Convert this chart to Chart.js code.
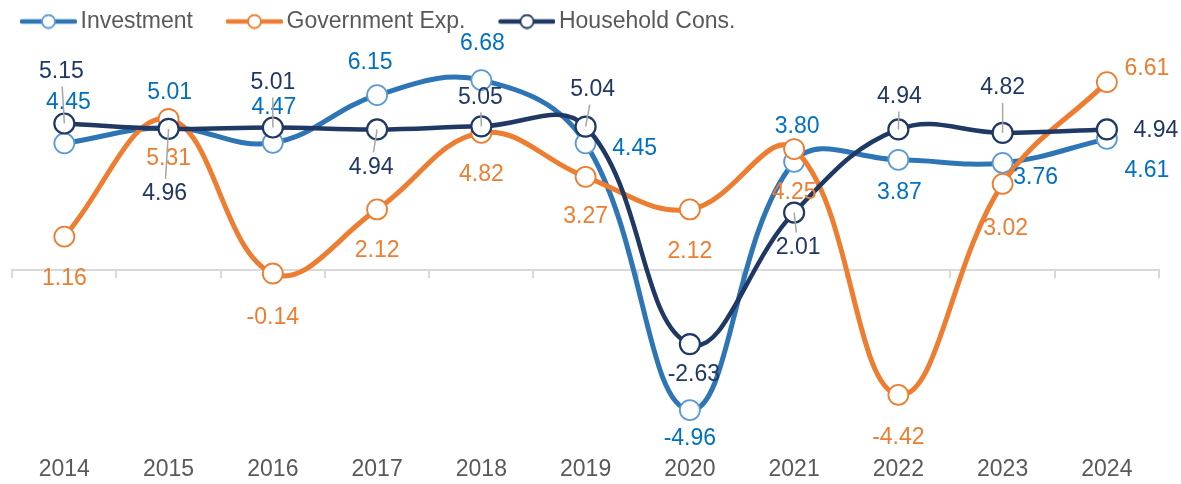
<!DOCTYPE html>
<html>
<head>
<meta charset="utf-8">
<script src="https://cdn.jsdelivr.net/npm/chart.js@4/dist/chart.umd.min.js"></script>
<style>
  html, body { margin: 0; padding: 0; background: #fff; }
  #wrap { width: 1181px; height: 484px; }
</style>
</head>
<body>
<div id="wrap"><canvas id="growthChart"></canvas></div>
<script>
// values
const years = ['2014', '2015', '2016', '2017', '2018', '2019', '2020', '2021', '2022', '2023', '2024'];
const investment = [4.45, 5.01, 4.47, 6.15, 6.68, 4.45, -4.96, 3.80, 3.87, 3.76, 4.61];
const governmentExp = [1.16, 5.31, -0.14, 2.12, 4.82, 3.27, 2.12, 4.25, -4.42, 3.02, 6.61];
const householdCons = [5.15, 4.96, 5.01, 4.94, 5.05, 5.04, -2.63, 2.01, 4.94, 4.82, 4.94];

const FONT = '"Liberation Sans", Arial, sans-serif';

// where each data label sits relative to its point (dx, dy), and whether it gets a leader line
const labelPlacement = [
  { color: '#0070c0', leader: [],
    offsets: [[4,-41],[1,-35],[1,-35],[-7,-33],[1,-36],[49,5],[0,29],[3,-35],[1,33],[33,15],[40,32]] },
  { color: '#ed7d31', leader: [],
    offsets: [[0,42],[0,40],[0,44],[0,41],[0,42],[0,40],[0,42],[0,44],[0,43],[3,45],[40,-13]] },
  { color: '#1f3864', leader: [1,1,1,1,1,1,0,1,1,1,0],
    offsets: [[-3,-52],[-4,65],[0,-45],[-6,38],[-1,-29],[7,-37],[4,31],[4,35],[1,-33],[0,-45],[49,1]] }
];

// legend icon: line with an open circle, like the office chart legend
function legendIcon(lineColor, ringColor) {
  const c = document.createElement('canvas');
  c.width = 88; c.height = 16;
  const g = c.getContext('2d');
  g.strokeStyle = lineColor;
  g.lineWidth = 4.5;
  g.lineCap = 'round';
  g.beginPath(); g.moveTo(33, 8); g.lineTo(86, 8); g.stroke();
  g.beginPath(); g.arc(59.5, 8, 6.5, 0, Math.PI * 2);
  g.fillStyle = '#fff'; g.fill();
  g.lineWidth = 1.8; g.strokeStyle = ringColor; g.stroke();
  return c;
}
const legendIcons = [
  legendIcon('#2e75b6', '#5b9bd5'),
  legendIcon('#ed7d31', '#ed7d31'),
  legendIcon('#1f3864', '#1f3864')
];

const valueLabels = {
  id: 'valueLabels',
  afterDatasetsDraw(chart) {
    const ctx = chart.ctx;
    ctx.save();
    ctx.font = '23px ' + FONT;
    ctx.textAlign = 'center';
    ctx.textBaseline = 'middle';
    const leaders = [];
    chart.data.datasets.forEach((ds, i) => {
      const place = labelPlacement[i];
      chart.getDatasetMeta(i).data.forEach((pt, j) => {
        const lx = pt.x + place.offsets[j][0];
        const ly = pt.y + place.offsets[j][1];
        const text = ds.data[j].toFixed(2);
        ctx.fillStyle = place.color;
        ctx.fillText(text, lx, ly);
        if (place.leader[j]) {
          const hw = ctx.measureText(text).width / 2 + 3;
          const hh = 15;
          const vx = pt.x - lx, vy = pt.y - ly;
          const t = Math.min(vx ? hw / Math.abs(vx) : Infinity, vy ? hh / Math.abs(vy) : Infinity);
          if (t < 1) leaders.push([lx + vx * t, ly + vy * t, pt.x, pt.y]);
        }
      });
    });
    ctx.strokeStyle = '#a6a6a6';
    ctx.lineWidth = 1.5;
    leaders.forEach(l => {
      ctx.beginPath(); ctx.moveTo(l[0], l[1]); ctx.lineTo(l[2], l[3]); ctx.stroke();
    });
    ctx.restore();
  }
};

const ctx = document.getElementById('growthChart').getContext('2d');
const growthChart = new Chart(ctx, {
  type: 'line',
  data: {
    labels: years,
    datasets: [{
      label: 'Investment',
      data: investment,
      borderColor: '#2e75b6',
      borderWidth: 5,
      pointRadius: 10,
      pointBackgroundColor: '#fff',
      pointBorderColor: '#5b9bd5',
      pointBorderWidth: 1.8,
      tension: 0.4,
      order: 3
    }, {
      label: 'Government Exp.',
      data: governmentExp,
      borderColor: '#ed7d31',
      borderWidth: 5,
      pointRadius: 10,
      pointBackgroundColor: '#fff',
      pointBorderColor: '#ed7d31',
      pointBorderWidth: 1.8,
      tension: 0.4,
      order: 2
    }, {
      label: 'Household Cons.',
      data: householdCons,
      borderColor: '#1f3864',
      borderWidth: 4.5,
      pointRadius: 10,
      pointBackgroundColor: '#fff',
      pointBorderColor: '#1f3864',
      pointBorderWidth: 2.2,
      tension: 0.4,
      order: 1
    }]
  },
  options: {
    responsive: true,
    maintainAspectRatio: false,
    animation: false,
    devicePixelRatio: 1,
    layout: { padding: { left: -13, right: 22, top: 0, bottom: -2 } },
    plugins: {
      tooltip: { enabled: false },
      legend: {
        position: 'top',
        align: 'start',
        labels: {
          usePointStyle: true,
          pointStyleWidth: 72,
          padding: 10,
          color: '#595959',
          font: { family: FONT, size: 23 },
          generateLabels: chart => chart.data.datasets.map((ds, i) => ({
            text: ds.label,
            pointStyle: legendIcons[i],
            fontColor: '#595959',
            fillStyle: 'transparent',
            strokeStyle: 'transparent',
            lineWidth: 0,
            hidden: false,
            datasetIndex: i
          }))
        }
      }
    },
    scales: {
      x: {
        type: 'category',
        offset: true,
        position: { y: 0 },
        grid: { display: true, drawOnChartArea: false, drawTicks: true, tickLength: 7, color: '#d9d9d9', lineWidth: 2, offset: true },
        border: { display: true, color: '#d9d9d9', width: 2 },
        ticks: { display: false }
      },
      xLabels: {
        type: 'category',
        offset: true,
        position: 'bottom',
        grid: { display: false, drawTicks: false },
        border: { display: false },
        ticks: { color: '#595959', font: { family: FONT, size: 23 }, padding: 3, maxRotation: 0, autoSkip: false }
      },
      y: {
        min: -6.45,
        max: 7.99,
        grid: { display: false, drawTicks: false },
        border: { display: false },
        ticks: { display: false },
        afterFit: scale => { scale.width = 24; }
      }
    }
  },
  plugins: [valueLabels]
});
</script>
</body>
</html>
